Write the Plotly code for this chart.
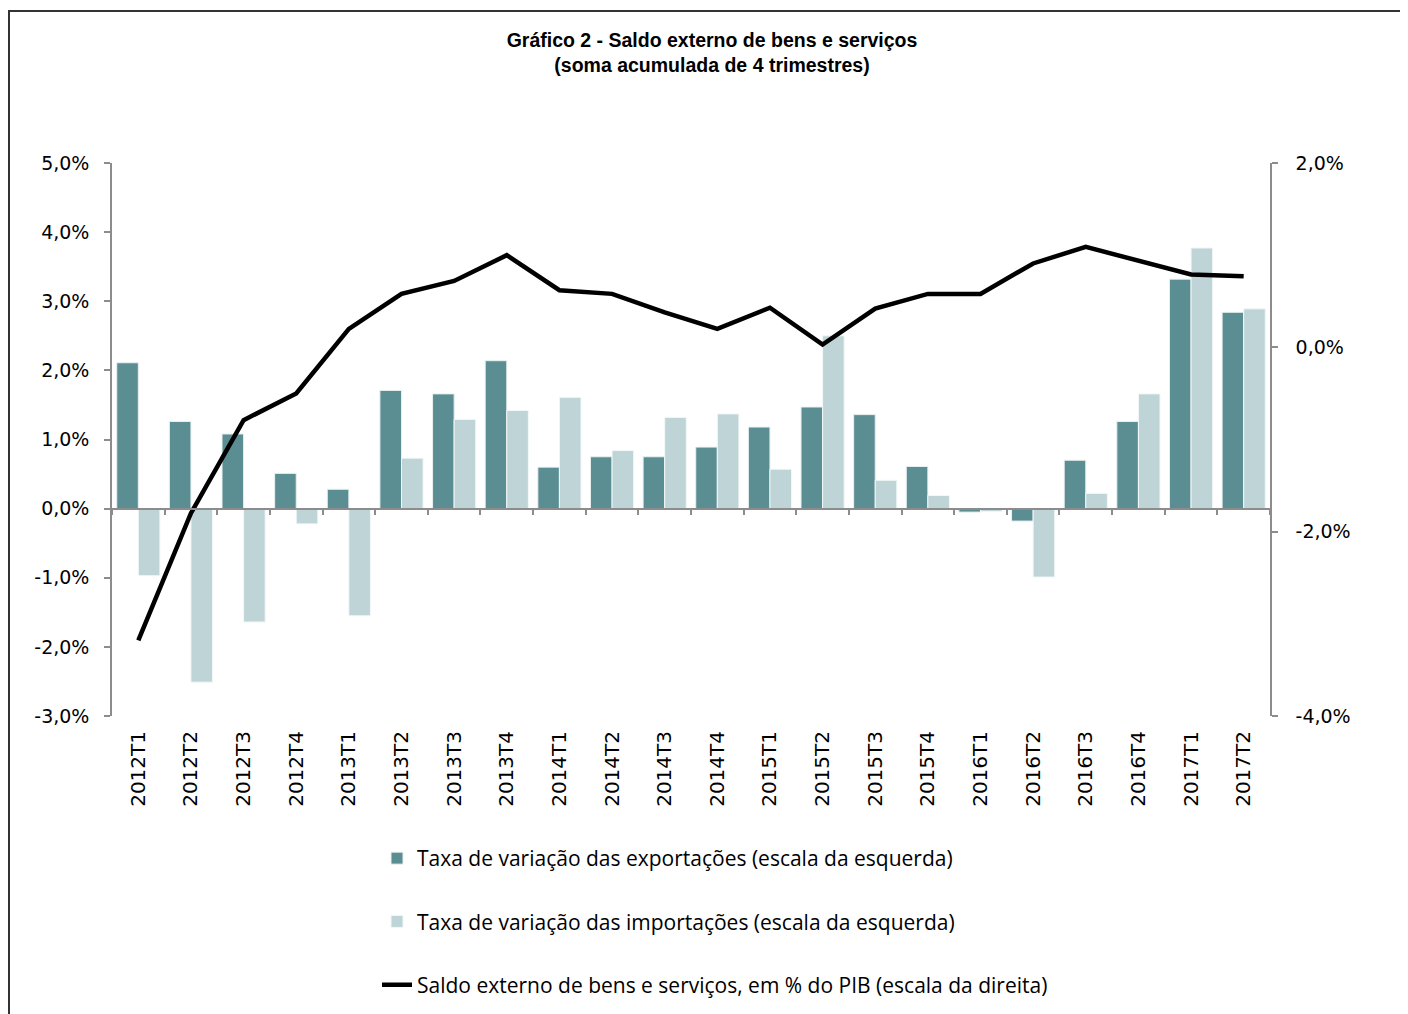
import plotly.graph_objects as go

categories = ["2012T1", "2012T2", "2012T3", "2012T4", "2013T1", "2013T2", "2013T3", "2013T4",
              "2014T1", "2014T2", "2014T3", "2014T4", "2015T1", "2015T2", "2015T3", "2015T4",
              "2016T1", "2016T2", "2016T3", "2016T4", "2017T1", "2017T2"]

exports = [2.11, 1.26, 1.08, 0.51, 0.28, 1.71, 1.66, 2.14, 0.60, 0.75, 0.75, 0.89,
           1.18, 1.47, 1.36, 0.61, -0.05, -0.18, 0.70, 1.26, 3.32, 2.84]

imports = [-0.97, -2.51, -1.64, -0.22, -1.55, 0.73, 1.29, 1.42, 1.61, 0.84, 1.32, 1.37,
           0.57, 2.50, 0.41, 0.19, -0.04, -0.99, 0.22, 1.66, 3.77, 2.89]

balance = [-3.18, -1.80, -0.79, -0.50, 0.20, 0.58, 0.72, 1.00, 0.62, 0.58, 0.38, 0.20,
           0.43, 0.03, 0.42, 0.58, 0.58, 0.91, 1.09, 0.94, 0.79, 0.77]

left_ticks = [-3, -2, -1, 0, 1, 2, 3, 4, 5]
right_ticks = [-4, -2, 0, 2]

names = ["Taxa de variação das exportações (escala da esquerda)",
         "Taxa de variação das importações (escala da esquerda)",
         "Saldo externo de bens e serviços, em % do PIB (escala da direita)"]

title_text = "<b>Gráfico 2 - Saldo externo de bens e serviços<br>(soma acumulada de 4 trimestres)</b>"


def pct_label(v):
    return f"{v:.1f}%".replace(".", ",")


C_EXP = "#5B8E93"
C_IMP = "#BED4D7"
AXIS_C = "#8C8C8C"
TICK_FONT = dict(family="DejaVu Sans", size=19, color="black")
XTICK_FONT = dict(family="DejaVu Sans", size=20, color="black")
LEG_FONT = dict(family="Open Sans", size=21, color="black")

# page has an 8px body margin: figure sized to fit the 1408x1014 viewport
W, H = 1400, 1006
OFF = 8

fig = go.Figure()
fig.add_trace(go.Bar(x=categories, y=exports, name=names[0], marker_color=C_EXP,
                     marker_line=dict(color="#E8F0F0", width=1), legendgroup="a"))
fig.add_trace(go.Bar(x=categories, y=imports, name=names[1], marker_color=C_IMP,
                     marker_line=dict(color="#F2F7F7", width=1), legendgroup="b"))
fig.add_trace(go.Scatter(x=categories, y=[None] * len(categories), xaxis="x2", yaxis="y",
                         showlegend=False, hoverinfo="skip", mode="lines"))
fig.add_trace(go.Scatter(x=categories, y=balance, name=names[2], mode="lines",
                         line=dict(color="black", width=4.5), yaxis="y2", legendgroup="c"))

fig.update_layout(
    width=W, height=H,
    margin=dict(l=112 - OFF, r=1408 - 1270, t=163 - OFF, b=1014 - 716, pad=0,
                autoexpand=False),
    paper_bgcolor="white", plot_bgcolor="white",
    barmode="group", bargap=0.18, bargroupgap=0,
    font=dict(family="DejaVu Sans", size=19, color="black"),
    title=dict(text=title_text, x=(712 - OFF) / W, xanchor="center", xref="container",
               y=1 - (47 - OFF) / H, yanchor="top", yref="container",
               font=dict(family="Liberation Sans", size=19.5, color="black")),
    xaxis=dict(type="category", categoryorder="array", categoryarray=categories,
               range=[-0.5, len(categories) - 0.5], showline=False, ticks="",
               tickangle=-90, tickfont=XTICK_FONT,
               ticklabelstandoff=10, showgrid=False, zeroline=False),
    xaxis2=dict(type="category", categoryorder="array", categoryarray=categories,
                range=[-0.5, len(categories) - 0.5], overlaying="x", anchor="free",
                position=3 / 8, showline=True, linecolor=AXIS_C, linewidth=1.5,
                ticks="outside", ticklen=6, tickcolor=AXIS_C, tickwidth=1.5,
                tickson="boundaries", showticklabels=False, showgrid=False, zeroline=False),
    yaxis=dict(range=[-3, 5], tickmode="array", tickvals=left_ticks,
               ticktext=[pct_label(v) for v in left_ticks],
               showline=True, linecolor=AXIS_C, linewidth=1.5, ticks="outside", ticklen=6,
               tickcolor=AXIS_C, tickwidth=1.5, showgrid=False, zeroline=False,
               ticklabelstandoff=11, tickfont=TICK_FONT),
    yaxis2=dict(range=[-4, 2], tickmode="array", tickvals=right_ticks,
                ticktext=[pct_label(v) for v in right_ticks],
                overlaying="y", side="right", anchor="x",
                showline=True, linecolor=AXIS_C, linewidth=1.5, ticks="outside", ticklen=6,
                tickcolor=AXIS_C, tickwidth=1.5, showgrid=False, zeroline=False,
                ticklabelstandoff=14, tickfont=TICK_FONT),
    legend=dict(orientation="v", x=(377 - 112) / 1158, xanchor="left",
                y=(716 - 838) / 553, yanchor="top", tracegroupgap=33,
                traceorder="grouped", font=LEG_FONT,
                bgcolor="rgba(0,0,0,0)"),
    shapes=[dict(type="rect", xref="paper", yref="paper",
                 x0=(9 - 112) / 1158, x1=(1430 - 112) / 1158,
                 y0=(716 - 1030) / 553, y1=(716 - 11) / 553,
                 line=dict(color="#333333", width=2), fillcolor="rgba(0,0,0,0)",
                 layer="below")],
)

fig.write_html("out.html")
